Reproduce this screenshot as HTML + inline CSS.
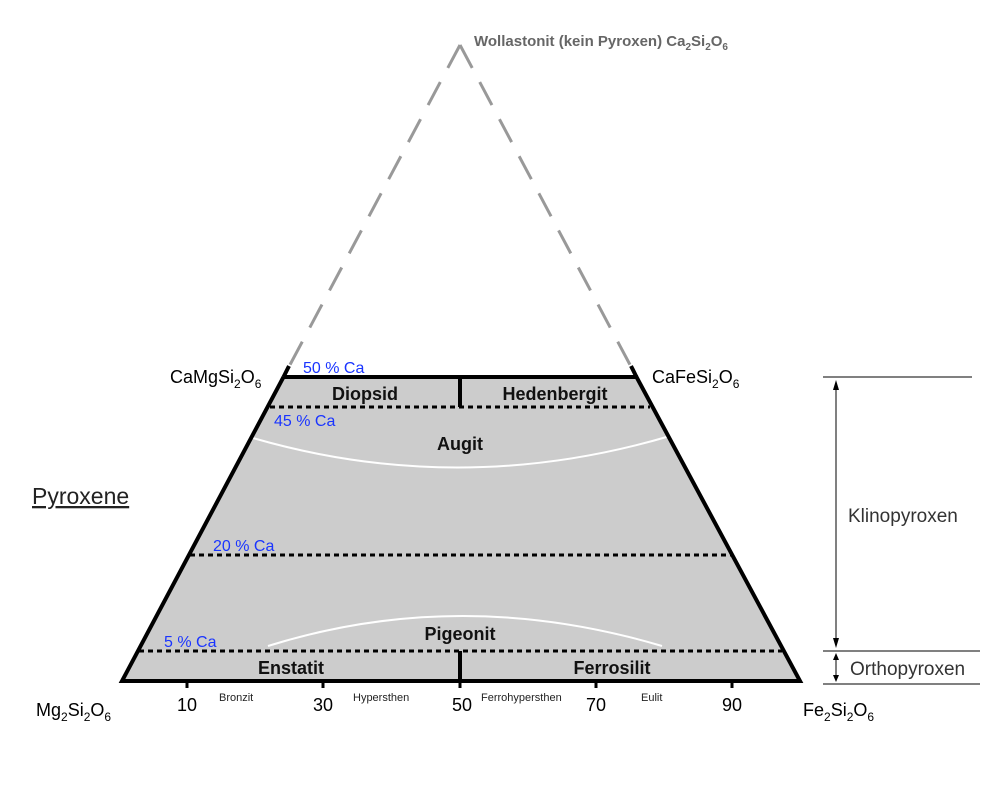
<!DOCTYPE html>
<html><head><style>body{margin:0;background:#fff}svg{display:block}</style></head><body>
<svg width="1000" height="786" xmlns="http://www.w3.org/2000/svg" font-family="Liberation Sans, sans-serif">
<polygon points="283.5,377 636.5,377 800,681 122,681" fill="#cccccc"/>
<line x1="460" y1="45" x2="283.5" y2="377" stroke="#999" stroke-width="3" stroke-dasharray="26,16"/>
<line x1="460" y1="45" x2="636.5" y2="377" stroke="#999" stroke-width="3" stroke-dasharray="26,16"/>
<line x1="289" y1="366" x2="283.5" y2="377" stroke="#000" stroke-width="4"/>
<line x1="631" y1="366" x2="636.5" y2="377" stroke="#000" stroke-width="4"/>
<path d="M253,438 Q460,498 670,436" stroke="#fff" stroke-width="2" fill="none"/>
<path d="M268,646 Q460,586 662,646" stroke="#fff" stroke-width="2" fill="none"/>
<g stroke="#000" stroke-width="4" fill="none">
<polyline points="283.5,377 122,681 800,681 636.5,377 283.5,377"/>
<line x1="460" y1="377" x2="460" y2="407"/>
<line x1="460" y1="651" x2="460" y2="681"/>
</g>
<g stroke="#000" stroke-width="3" stroke-dasharray="5,4">
<line x1="270" y1="407" x2="650" y2="407"/>
<line x1="190" y1="555" x2="732" y2="555"/>
<line x1="139" y1="651" x2="782" y2="651"/>
</g>
<g stroke="#000" stroke-width="3">
<line x1="187" y1="681" x2="187" y2="688"/><line x1="323" y1="681" x2="323" y2="688"/>
<line x1="460" y1="681" x2="460" y2="688"/><line x1="596" y1="681" x2="596" y2="688"/>
<line x1="732" y1="681" x2="732" y2="688"/>
</g>
<g stroke="#000" stroke-width="1">
<line x1="823" y1="377" x2="972" y2="377"/>
<line x1="823" y1="651" x2="980" y2="651"/>
<line x1="823" y1="684" x2="980" y2="684"/>
<line x1="836" y1="382" x2="836" y2="646"/>
<line x1="836" y1="655" x2="836" y2="680"/>
</g>
<g fill="#000">
<polygon points="836,380 833,390 839,390"/><polygon points="836,648 833,638 839,638"/>
<polygon points="836,653 833,660 839,660"/><polygon points="836,682 833,675 839,675"/>
</g>
<g font-weight="bold" font-size="18" text-anchor="middle" fill="#111">
<text x="365" y="400">Diopsid</text><text x="555" y="400">Hedenbergit</text>
<text x="460" y="450">Augit</text><text x="460" y="640">Pigeonit</text>
<text x="291" y="674">Enstatit</text><text x="612" y="674">Ferrosilit</text>
</g>
<g fill="#1a35ff" font-size="16">
<text x="303" y="373">50 % Ca</text><text x="274" y="426">45 % Ca</text>
<text x="213" y="551">20 % Ca</text><text x="164" y="647">5 % Ca</text>
</g>
<g font-size="18" fill="#000">
<text x="170" y="383">CaMgSi<tspan font-size="12" dy="5">2</tspan><tspan dy="-5">O</tspan><tspan font-size="12" dy="5">6</tspan></text>
<text x="652" y="383">CaFeSi<tspan font-size="12" dy="5">2</tspan><tspan dy="-5">O</tspan><tspan font-size="12" dy="5">6</tspan></text>
<text x="36" y="716">Mg<tspan font-size="12" dy="5">2</tspan><tspan dy="-5">Si</tspan><tspan font-size="12" dy="5">2</tspan><tspan dy="-5">O</tspan><tspan font-size="12" dy="5">6</tspan></text>
<text x="803" y="716">Fe<tspan font-size="12" dy="5">2</tspan><tspan dy="-5">Si</tspan><tspan font-size="12" dy="5">2</tspan><tspan dy="-5">O</tspan><tspan font-size="12" dy="5">6</tspan></text>
</g>
<g font-size="18" text-anchor="middle">
<text x="187" y="711">10</text><text x="323" y="711">30</text><text x="462" y="711">50</text>
<text x="596" y="711">70</text><text x="732" y="711">90</text>
</g>
<g font-size="11" fill="#222">
<text x="219" y="701">Bronzit</text><text x="353" y="701">Hypersthen</text>
<text x="481" y="701">Ferrohypersthen</text><text x="641" y="701">Eulit</text>
</g>
<text x="474" y="46" font-size="15" font-weight="bold" fill="#666">Wollastonit (kein Pyroxen) Ca<tspan font-size="10" dy="4">2</tspan><tspan dy="-4">Si</tspan><tspan font-size="10" dy="4">2</tspan><tspan dy="-4">O</tspan><tspan font-size="10" dy="4">6</tspan></text>
<text x="32" y="504" font-size="23" fill="#222" text-decoration="underline">Pyroxene</text>
<text x="848" y="522" font-size="19" fill="#333">Klinopyroxen</text>
<text x="850" y="675" font-size="19" fill="#333">Orthopyroxen</text>
</svg>
</body></html>
